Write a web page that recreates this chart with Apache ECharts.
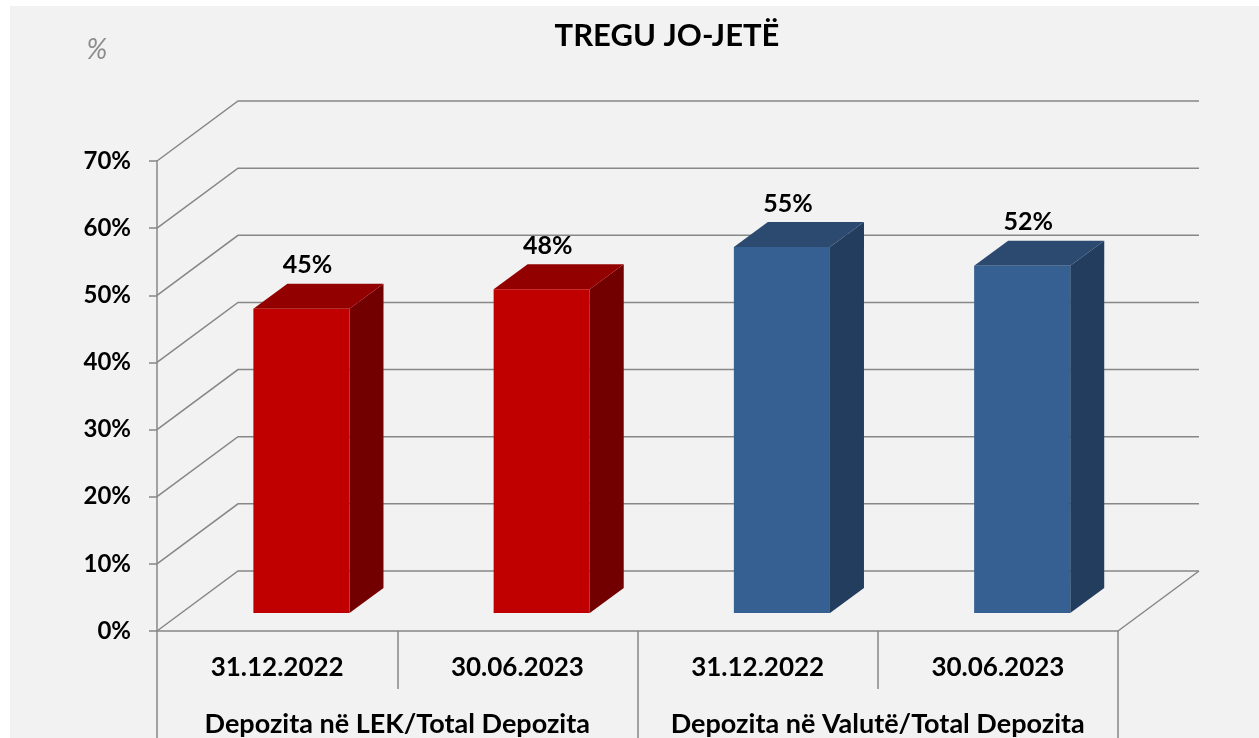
<!DOCTYPE html>
<html>
<head>
<meta charset="utf-8">
<script src="https://cdn.jsdelivr.net/npm/echarts@6/dist/echarts.min.js"></script>
<style>
  body{margin:0;background:#fff;}
  #chart{width:1259px;height:738px;}
</style>
</head>
<body>
<div id="chart"></div>
<script>
// data
let dates = ['31.12.2022', '30.06.2023', '31.12.2022', '30.06.2023']
let groups = ['Depozita në LEK/Total Depozita', 'Depozita në Valutë/Total Depozita']
let shares = [45.3, 48.2, 54.5, 51.7]
let groupOfBar = [0, 0, 1, 1]
let yTicks = [0, 10, 20, 30, 40, 50, 60, 70]

// 3d look
let DEPTH = [81, -60]        // full floor depth
let BAR_FRONT = 0.3          // bar front face at this depth share
let BAR_DEPTH = [34, -25]    // bar's own depth
let faces = [
    {front: '#c00000', top: '#930000', side: '#720000'},
    {front: '#376092', top: '#2c4a70', side: '#223d5e'}
]
let gridColor = '#878787'
let font = 'Lato, "Open Sans", sans-serif'

function walls(params, api){
    let cs = params.coordSys
    let v = api.value(1)
    let y = api.coord([0, v])[1]
    let x0 = cs.x, x1 = cs.x + cs.width
    let kids = [{
        type: 'polyline',
        shape: {points: [[x0, y], [x0 + DEPTH[0], y + DEPTH[1]], [x1 + DEPTH[0], y + DEPTH[1]]]},
        style: {stroke: gridColor, lineWidth: 1.5, fill: null}
    }]
    if (v === 0) {
        kids.push({
            type: 'line',
            shape: {x1: x1, y1: y, x2: x1 + DEPTH[0], y2: y + DEPTH[1]},
            style: {stroke: gridColor, lineWidth: 1.5}
        })
    }
    return {type: 'group', children: kids}
}

function bar3d(params, api){
    let i = api.value(0)
    let v = api.value(1)
    let f = faces[api.value(2)]
    let base = api.coord([i, 0])
    let top = api.coord([i, v])
    let w = api.size([1, 0])[0] * 0.4
    let fx = DEPTH[0] * BAR_FRONT, fy = DEPTH[1] * BAR_FRONT
    let x0 = base[0] - w / 2 + fx, x1 = x0 + w
    let yb = base[1] + fy, yt = top[1] + fy
    let dx = BAR_DEPTH[0], dy = BAR_DEPTH[1]
    return {type: 'group', children: [
        {type: 'polygon', shape: {points: [[x1, yt], [x1 + dx, yt + dy], [x1 + dx, yb + dy], [x1, yb]]}, style: {fill: f.side}},
        {type: 'polygon', shape: {points: [[x0, yt], [x0 + dx, yt + dy], [x1 + dx, yt + dy], [x1, yt]]}, style: {fill: f.top}},
        {type: 'rect', shape: {x: x0, y: yt, width: w, height: yb - yt}, style: {fill: f.front}},
        {type: 'text', x: x0 + w / 2 + 6, y: yt + dy - 6, style: {
            text: Math.round(v) + '%', align: 'center', verticalAlign: 'bottom',
            fontFamily: font, fontWeight: 'bold', fontSize: 25, fill: '#000'
        }}
    ]}
}

let box = document.querySelector('#chart')
let myChart = echarts.init(box)
let option = {
    backgroundColor: '#ffffff',
    animation: false,
    graphic: [
        {type: 'rect', z: -10, shape: {x: 10, y: 6, width: 1249, height: 732}, style: {fill: '#f2f2f2'}},
        {type: 'text', x: 667, y: 36, style: {text: 'TREGU JO-JETË', align: 'center', verticalAlign: 'middle',
            fontFamily: font, fontWeight: 'bold', fontSize: 31, fill: '#000'}},
        {type: 'text', x: 97, y: 50, style: {text: '%', align: 'center', verticalAlign: 'middle',
            fontFamily: font, fontStyle: 'italic', fontSize: 28, fill: '#8c8c8c'}}
    ],
    grid: {left: 157, right: 141, top: 161, bottom: 107},
    xAxis: [
        {
            type: 'category',
            data: dates,
            axisLine: {show: true, lineStyle: {color: gridColor, width: 1.5}},
            axisTick: {show: true, interval: 0, length: 58, lineStyle: {color: gridColor, width: 1.5}},
            axisLabel: {interval: 0, margin: 24, color: '#000', fontFamily: font, fontWeight: 'bold', fontSize: 26}
        },
        {
            type: 'category',
            position: 'bottom',
            data: groups,
            axisLine: {show: false},
            axisTick: {show: true, interval: 0, length: 120, lineStyle: {color: gridColor, width: 1.5}},
            axisLabel: {interval: 0, hideOverlap: false, margin: 80, color: '#000', fontFamily: font, fontWeight: 'bold', fontSize: 27}
        }
    ],
    yAxis: {
        type: 'value',
        min: 0,
        max: 70,
        interval: 10,
        axisLine: {show: true, lineStyle: {color: gridColor, width: 1.5}},
        axisTick: {show: true, length: 8, lineStyle: {color: gridColor, width: 1.5}},
        splitLine: {show: false},
        axisLabel: {formatter: '{value}%', margin: 26, color: '#000', fontFamily: font, fontWeight: 'bold', fontSize: 24}
    },
    series: [
        {
            type: 'custom',
            renderItem: walls,
            encode: {x: 0, y: 1},
            z: 1,
            data: yTicks.map(function(v){ return [0, v] })
        },
        {
            type: 'custom',
            renderItem: bar3d,
            encode: {x: 0, y: 1},
            z: 2,
            data: shares.map(function(v, i){ return [i, v, groupOfBar[i]] })
        }
    ]
}
myChart.setOption(option)
</script>
</body>
</html>
